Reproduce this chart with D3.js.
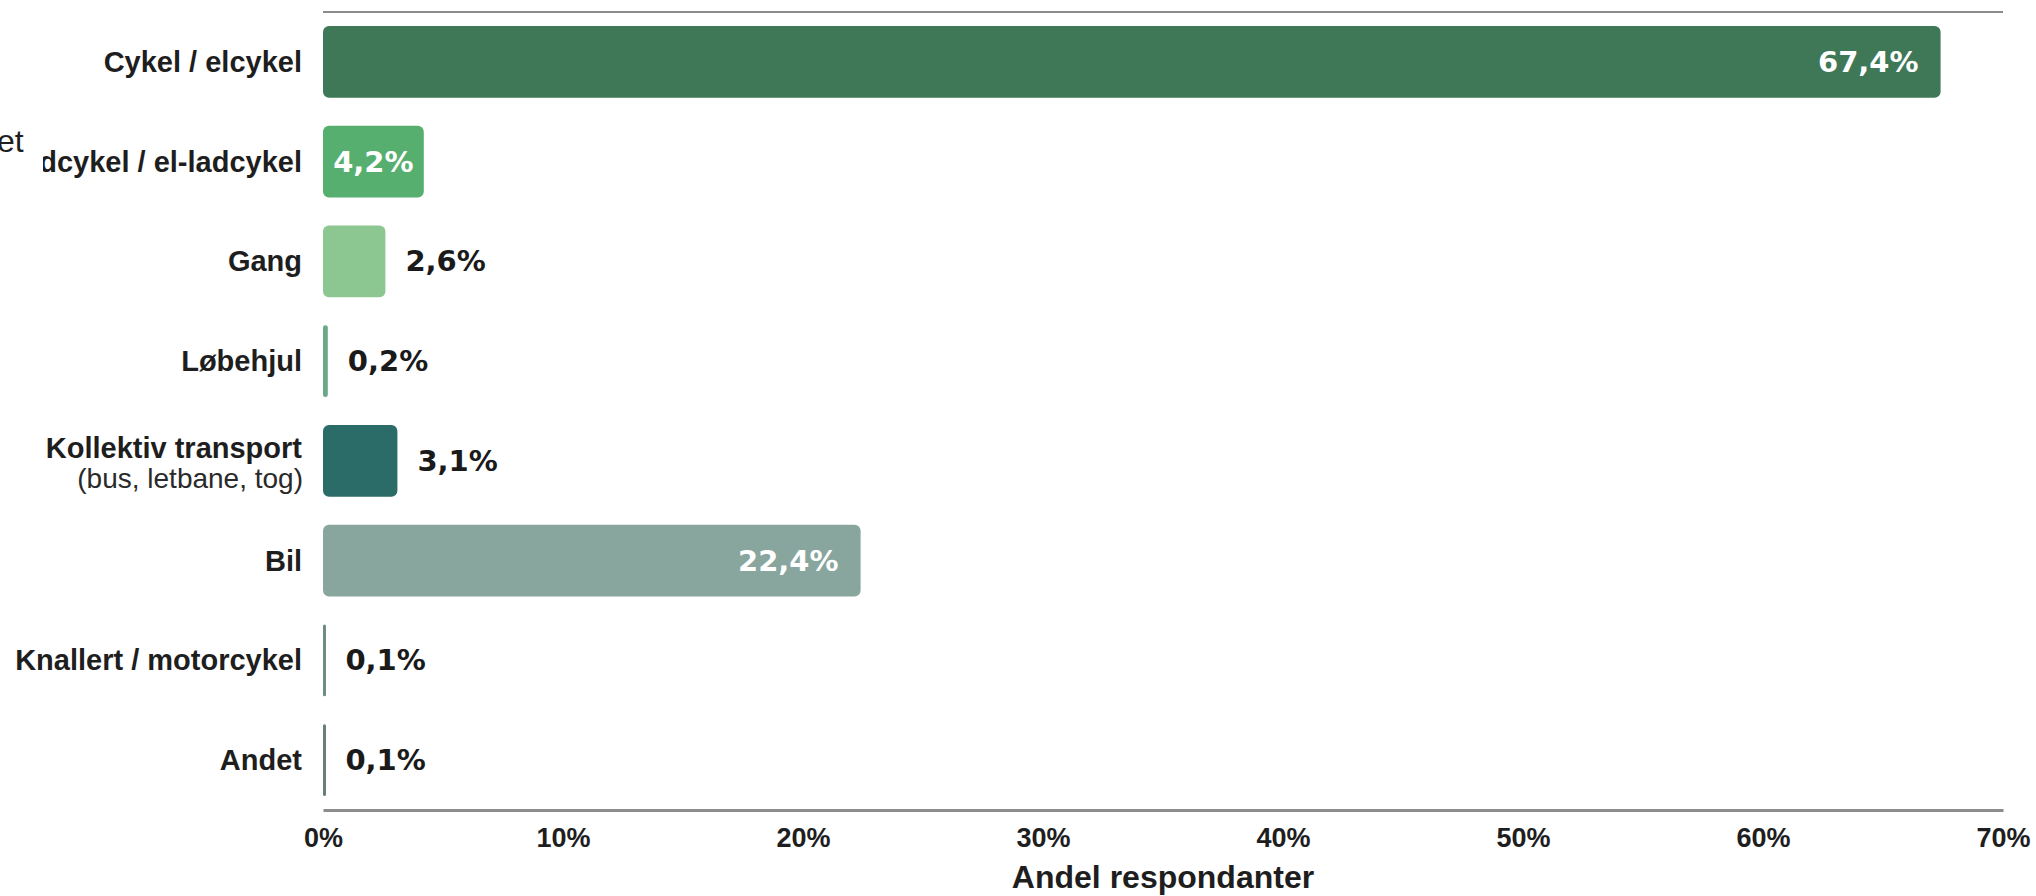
<!DOCTYPE html>
<html>
<head>
<meta charset="utf-8">
<script src="https://cdn.jsdelivr.net/npm/d3@7"></script>
<style>
  html, body { margin: 0; padding: 0; background: #ffffff; }
  svg { display: block; }
</style>
</head>
<body>
<svg id="chart" width="2036" height="896"></svg>
<script>
// ---- data ----
const categories = [
  "Cykel / elcykel",
  "Ladcykel / el-ladcykel",
  "Gang",
  "Løbehjul",
  "Kollektiv transport",
  "Bil",
  "Knallert / motorcykel",
  "Andet"
];
const subLabels = ["", "", "", "", "(bus, letbane, tog)", "", "", ""];
const values = [67.4, 4.2, 2.6, 0.2, 3.1, 22.4, 0.1, 0.1];
const valueLabels = ["67,4%", "4,2%", "2,6%", "0,2%", "3,1%", "22,4%", "0,1%", "0,1%"];
const barColors = ["#3e7856", "#56af6f", "#8cc690", "#6ba888", "#2b6c68", "#88a59e", "#6b8d84", "#687f78"];
const xTicks = [0, 10, 20, 30, 40, 50, 60, 70];
const xTickLabels = ["0%", "10%", "20%", "30%", "40%", "50%", "60%", "70%"];
const xTitle = "Andel respondanter";

// ---- layout ----
const svg = d3.select("#chart");
const x = d3.scaleLinear().domain([0, 70]).range([323, 2003]);
const y = d3.scaleBand().domain(categories).range([12, 810])
  .paddingInner(0.28).paddingOuter(0.14);

const labelFont = "'Liberation Sans', Arial, Helvetica, sans-serif";
const valueFont = "'DejaVu Sans', Verdana, sans-serif";

// top border line
svg.append("line")
  .attr("x1", x(0)).attr("x2", x(70))
  .attr("y1", 12).attr("y2", 12)
  .attr("stroke", "#8c8c8c").attr("stroke-width", 2);

// bars
svg.append("g").selectAll("rect")
  .data(categories)
  .join("rect")
  .attr("x", x(0))
  .attr("y", d => y(d))
  .attr("width", (d, i) => Math.max(3, x(values[i]) - x(0)))
  .attr("height", y.bandwidth())
  .attr("rx", (d, i) => Math.min(6, Math.max(1.5, (x(values[i]) - x(0)) / 2)))
  .attr("fill", (d, i) => barColors[i]);

// category labels
const lab = svg.append("g");
categories.forEach((c, i) => {
  const cy = y(c) + y.bandwidth() / 2;
  if (subLabels[i]) {
    lab.append("text")
      .attr("x", 302).attr("y", cy - 3)
      .attr("text-anchor", "end")
      .attr("font-family", labelFont).attr("font-weight", "bold")
      .attr("font-size", 29).attr("fill", "#1e1e1e")
      .text(c);
    lab.append("text")
      .attr("x", 303).attr("y", cy + 27)
      .attr("text-anchor", "end")
      .attr("font-family", labelFont).attr("font-weight", "normal")
      .attr("font-size", 28).attr("fill", "#2a2a2a")
      .text(subLabels[i]);
  } else {
    lab.append("text")
      .attr("x", 302).attr("y", cy + 10)
      .attr("text-anchor", "end")
      .attr("font-family", labelFont).attr("font-weight", "bold")
      .attr("font-size", 29).attr("fill", "#1e1e1e")
      .text(c);
  }
});

// overlapping stray text at left edge (box hides start of label)
svg.append("rect").attr("x", 0).attr("y", 122).attr("width", 43).attr("height", 56).attr("fill", "#ffffff");
svg.append("text")
  .attr("x", -3).attr("y", 152)
  .attr("font-family", labelFont).attr("font-size", 32).attr("fill", "#1e1e1e")
  .text("et");

// value labels
const vl = svg.append("g");
categories.forEach((c, i) => {
  const cy = y(c) + y.bandwidth() / 2 + 10;
  const w = x(values[i]) - x(0);
  const inside = values[i] >= 4;
  const t = vl.append("text")
    .attr("y", cy)
    .attr("font-family", valueFont).attr("font-weight", "bold")
    .attr("font-size", 29)
    .text(valueLabels[i]);
  if (inside) {
    t.attr("fill", "#ffffff");
    if (w < 150) {
      t.attr("x", x(0) + w / 2).attr("text-anchor", "middle");
    } else {
      t.attr("x", x(values[i]) - 22).attr("text-anchor", "end");
    }
  } else {
    t.attr("fill", "#1a1a1a").attr("x", x(values[i]) + 20).attr("text-anchor", "start");
  }
});

// x axis
const axis = d3.axisBottom(x)
  .tickValues(xTicks)
  .tickFormat((d, i) => xTickLabels[i])
  .tickSize(0)
  .tickPadding(0);
const gx = svg.append("g").attr("transform", "translate(0,810)").call(axis);
gx.select(".domain").attr("stroke", "#8c8c8c").attr("stroke-width", 3);
gx.selectAll(".tick text")
  .attr("y", 37)
  .attr("dy", 0)
  .attr("font-family", labelFont).attr("font-weight", "bold")
  .attr("font-size", 27).attr("fill", "#1e1e1e");

// axis title
svg.append("text")
  .attr("x", (x(0) + x(70)) / 2).attr("y", 888)
  .attr("text-anchor", "middle")
  .attr("font-family", labelFont).attr("font-weight", "bold")
  .attr("font-size", 32).attr("fill", "#1e1e1e")
  .text(xTitle);
</script>
</body>
</html>
